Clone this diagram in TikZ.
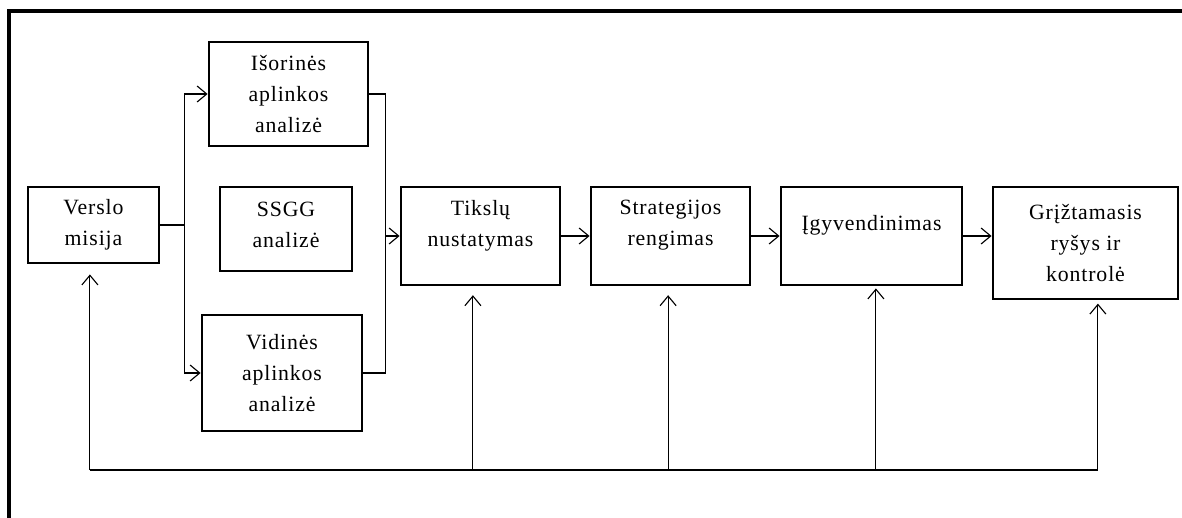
\documentclass[tikz,border=0pt]{standalone}
\usepackage{fontspec}
\setmainfont{Liberation Serif}[LetterSpace=4]
\usetikzlibrary{positioning,arrows.meta,calc}

\begin{document}
\begin{tikzpicture}[x=0.025cm, y=-0.025cm,
  blk/.style={rectangle, draw=black, line width=2pt, align=center,
              font=\fontsize{15.5}{22}\selectfont},
  raised/.style={text depth=0.65cm},
  ln/.style={line width=0.8pt},
  ar/.style={ln, -{Straight Barb[length=2.4mm,width=4mm]}},
]
\useasboundingbox (0,0) rectangle (1182,518);

% frame
\draw[line width=2.5pt] (9,530) -- (9,11) -- (1195,11);

\node[blk, minimum width=3.275cm, minimum height=1.9cm] (misija) at (93.5,225) {Verslo\\misija};
\node[blk, minimum width=3.975cm, minimum height=2.6cm] (isor)   at (288.5,94) {Išorinės\\aplinkos\\analizė};
\node[blk, minimum width=3.3cm, minimum height=2.1cm, text depth=0.2cm] (ssgg) at (286,229) {SSGG\\analizė};
\node[blk, minimum width=4cm, minimum height=2.9cm] (vidin)      at (282,373) {Vidinės\\aplinkos\\analizė};

\node[blk, raised, minimum width=3.975cm, minimum height=2.45cm] (tiksl) at (480.5,236) {Tikslų\\nustatymas};
\node[blk, raised, minimum width=3.975cm, minimum height=2.45cm] (strat) at (670.5,236) {Strategijos\\rengimas};
\node[blk, raised, minimum width=4.525cm, minimum height=2.45cm] (igyv)  at (871.5,236) {Įgyvendinimas};
\node[blk, minimum width=4.625cm, minimum height=2.8cm] (grizt) at (1085.5,243) {Grįžtamasis\\ryšys ir\\kontrolė};

% analysis fan out / in
\coordinate (split) at ($(misija.east)+(24,0)$);
\draw[ar] (misija.east) -- (split) |- (isor.west);
\draw[ar] (split) |- (vidin.west);

\coordinate (merge) at ($(tiksl.west)+(-14,0)$);
\draw[ln] (isor.east) -| (merge);
\draw[ln] (vidin.east) -| (merge);
\draw[ar] (merge) -- (tiksl.west);

\foreach \a/\b in {tiksl/strat, strat/igyv, igyv/grizt}
  \draw[ar] (\a.east) -- (\b.west |- \a.east);

% feedback
\coordinate (fbl) at (90,470);
\coordinate (fbr) at (1098,470);
\draw[ln] (fbl) -- (fbr);
\foreach \n/\d/\g in {misija/-0.09/0.25, tiksl/-0.19/0.22, strat/-0.06/0.22, igyv/0.11/0.05, grizt/0.31/0.08}
  \draw[ar, shorten >=\g cm] ([xshift=\d cm]\n.south |- fbl) -- ([xshift=\d cm]\n.south);

\end{tikzpicture}
\end{document}
